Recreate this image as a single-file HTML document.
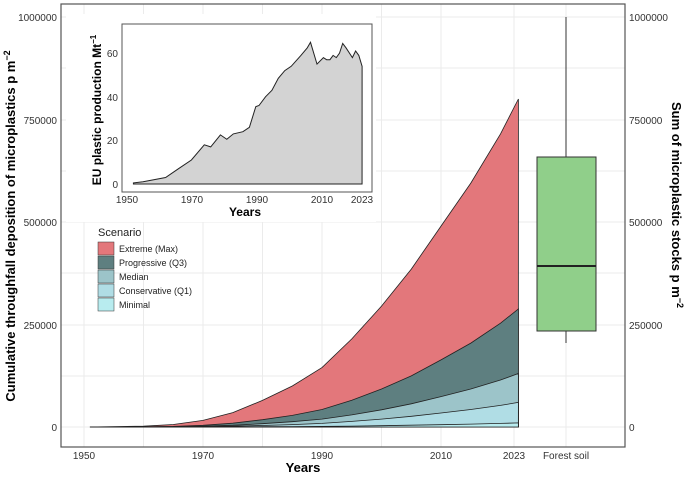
<!DOCTYPE html><html><head><style>body{margin:0;background:#fff}svg text{font-family:"Liberation Sans",sans-serif}</style></head><body>
<svg id="s" width="685" height="473" xmlns="http://www.w3.org/2000/svg">
<rect width="685" height="473" fill="#fff"/>
<g id="grid" stroke="#ebebeb" stroke-width="1"></g>
<g id="areas"></g>
<line x1="566" y1="17" x2="566" y2="343" stroke="#333"/>
<rect x="537" y="157" width="59" height="174" fill="#90cf8a" stroke="#333"/>
<line x1="537" y1="266" x2="596" y2="266" stroke="#222" stroke-width="2"/>
<rect x="61" y="4" width="564" height="443" fill="none" stroke="#555" stroke-width="1.2"/>
<g font-size="10" fill="#333" text-anchor="end">
<text x="57" y="431">0</text><text x="57" y="329">250000</text><text x="57" y="226">500000</text><text x="57" y="124">750000</text><text x="57" y="21">1000000</text></g>
<g font-size="10" fill="#333" text-anchor="start">
<text x="629" y="431">0</text><text x="629" y="329">250000</text><text x="629" y="226">500000</text><text x="629" y="124">750000</text><text x="629" y="21">1000000</text></g>
<g font-size="10" fill="#333" text-anchor="middle">
<text x="84" y="459">1950</text><text x="203" y="459">1970</text><text x="322" y="459">1990</text><text x="441" y="459">2010</text><text x="514" y="459">2023</text><text x="566" y="459">Forest soil</text></g>
<text x="303" y="472" font-size="13" font-weight="bold" text-anchor="middle">Years</text>
<text transform="translate(15,226) rotate(-90)" font-size="13" font-weight="bold" text-anchor="middle">Cumulative throughfall deposition of microplastics p m<tspan dy="-5" font-size="9">−2</tspan></text>
<text transform="translate(672,205) rotate(90)" font-size="13" font-weight="bold" text-anchor="middle">Sum of microplastic stocks p m<tspan dy="-5" font-size="9">−2</tspan></text>
<rect x="66" y="14" width="310" height="208" fill="#fff"/>
<rect x="122" y="24" width="250" height="168" fill="#fff" stroke="#555"/>
<path id="inset" fill="#d3d3d3" stroke="#222" stroke-width="1"/>
<g font-size="10" fill="#333" text-anchor="end"><text x="118" y="188">0</text><text x="118" y="144">20</text><text x="118" y="101">40</text><text x="118" y="57">60</text></g>
<g font-size="10" fill="#333" text-anchor="middle"><text x="127" y="203">1950</text><text x="192" y="203">1970</text><text x="257" y="203">1990</text><text x="322" y="203">2010</text><text x="362" y="203">2023</text></g>
<text x="245" y="216" font-size="12" font-weight="bold" text-anchor="middle">Years</text>
<text transform="translate(101,110) rotate(-90)" font-size="12" font-weight="bold" text-anchor="middle">EU plastic production Mt<tspan dy="-5" font-size="8">−1</tspan></text>
<text x="98" y="236" font-size="11" fill="#222">Scenario</text>
<g font-size="9" fill="#222">
<rect x="98" y="242" width="16" height="13" fill="#e3777b" stroke="#333" stroke-width=".5"/><text x="119" y="252">Extreme (Max)</text>
<rect x="98" y="256" width="16" height="13" fill="#5e7f80" stroke="#333" stroke-width=".5"/><text x="119" y="266">Progressive (Q3)</text>
<rect x="98" y="270" width="16" height="13" fill="#9cc4c9" stroke="#333" stroke-width=".5"/><text x="119" y="280">Median</text>
<rect x="98" y="284" width="16" height="13" fill="#b0dde5" stroke="#333" stroke-width=".5"/><text x="119" y="294">Conservative (Q1)</text>
<rect x="98" y="298" width="16" height="13" fill="#b8ecef" stroke="#333" stroke-width=".5"/><text x="119" y="308">Minimal</text></g>
</svg>
<script>
var g=document.getElementById('grid'),h='';
[84,143.5,203,262.5,322,381.5,441,514,566].forEach(x=>h+=`<line x1="${x}" y1="4" x2="${x}" y2="447"/>`);
[427,376,325,273,222,171,120,68,17].forEach(y=>h+=`<line x1="61" y1="${y}" x2="625" y2="${y}"/>`);
g.innerHTML=h;
var X=t=>84+(t-1950)*5.95,Y=v=>427-v*0.41;
var pts=[[1951,0],[1960,2],[1965,6],[1970,16],[1975,35],[1980,65],[1985,100],[1990,145],[1995,215],[2000,295],[2005,385],[2010,490],[2015,595],[2020,715],[2023,800]];
var f=[1,0.36,0.163,0.075,0.0125],c=['#e3777b','#5e7f80','#9cc4c9','#b0dde5','#b8ecef'],a='';
f.forEach((k,i)=>{var d='M'+X(1951)+','+Y(0);pts.forEach(p=>{var kk=k;if(i>0)kk=k*(0.6+0.4*(p[0]-1951)/72);d+=' L'+X(p[0]).toFixed(1)+','+Y(p[1]*kk).toFixed(1)});d+=' L'+X(2023)+','+Y(0)+' Z';a+=`<path d="${d}" fill="${c[i]}" stroke="#222" stroke-width=".8"/>`});
document.getElementById('areas').innerHTML=a;
var ip=[[1952,0.5],[1955,1],[1962,3],[1966,7],[1970,11],[1974,18],[1976,17],[1979,22.5],[1981,20.5],[1983,23],[1986,24],[1988,26],[1990,35.5],[1991,36],[1993,40],[1995,43],[1997,48.5],[1999,52],[2001,54],[2004,59],[2006,62.5],[2007,65],[2009,55],[2011,58],[2012,57],[2013,57],[2014,59],[2015,58],[2016,60],[2017,64.5],[2018,62.5],[2020,58],[2021,61],[2022,59],[2023,54]];
var IX=t=>127+(t-1950)*3.22,IY=v=>184-v*2.18,d='M'+IX(1952)+','+IY(0);
ip.forEach(p=>d+=' L'+IX(p[0]).toFixed(1)+','+IY(p[1]).toFixed(1));d+=' L'+IX(2023)+','+IY(0)+' Z';
document.getElementById('inset').setAttribute('d',d);
</script>
</body></html>
